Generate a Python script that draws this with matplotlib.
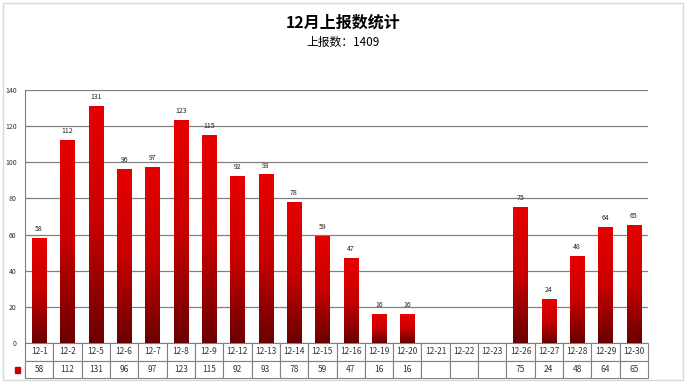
import numpy as np
import matplotlib.pyplot as plt
from matplotlib.patches import Rectangle

plt.rcParams['font.family'] = ['Noto Sans CJK SC', 'DejaVu Sans']

categories = ["12-1", "12-2", "12-5", "12-6", "12-7", "12-8", "12-9", "12-12", "12-13",
              "12-14", "12-15", "12-16", "12-19", "12-20", "12-21", "12-22", "12-23",
              "12-26", "12-27", "12-28", "12-29", "12-30"]
counts = [58, 112, 131, 96, 97, 123, 115, 92, 93, 78, 59, 47, 16, 16,
          None, None, None, 75, 24, 48, 64, 65]
title = "12月上报数统计"
subtitle = "上报数：1409"

fig = plt.figure(figsize=(6.86, 3.83), dpi=100)
# outer frame
fig.patches.append(Rectangle((0.005, 0.008), 0.99, 0.984, transform=fig.transFigure,
                             fill=False, edgecolor='#d8d8d8', lw=1.0))
fig.text(0.5, 0.94, title, ha='center', va='center', fontsize=11.5, fontweight='bold')
fig.text(0.5, 0.888, subtitle, ha='center', va='center', fontsize=8.5)

ax = fig.add_axes([25 / 686, 1 - 343 / 383, 623 / 686, 253 / 383])
ax.set_xlim(0, len(categories))
ax.set_ylim(0, 140)
ax.set_yticks(range(0, 141, 20))
ax.tick_params(axis='y', length=0, labelsize=5, labelcolor='#333333', pad=6)
ax.set_xticks([])
ax.grid(axis='y', color='#808080', lw=0.9)
ax.set_axisbelow(True)
for s in ['top', 'right', 'bottom']:
    ax.spines[s].set_visible(False)
ax.spines['left'].set_color('#808080')

grad = np.linspace(0, 1, 256).reshape(-1, 1)
from matplotlib.colors import LinearSegmentedColormap
cmap = LinearSegmentedColormap.from_list('redgrad', ['#e60000', '#c80000', '#6a0000'])

for i, v in enumerate(counts):
    if v is None:
        continue
    x0 = i + 0.25
    ax.imshow(grad, extent=[x0, x0 + 0.5, 0, v], aspect='auto', cmap=cmap,
              origin='upper', zorder=2)
    ax.text(i + 0.5, v + 3, str(v), ha='center', va='bottom', fontsize=5, color='#222222')
ax.set_xlim(0, len(categories))
ax.set_ylim(0, 140)

cell_text = [["" if v is None else str(v) for v in counts]]
tab = ax.table(cellText=cell_text, colLabels=categories, rowLabels=[""],
               cellLoc='center', rowLoc='center',
               bbox=[0, -35 / 253, 1, 35 / 253])
tab.auto_set_font_size(False)
tab.set_fontsize(6)
for (r, c), cell in tab.get_celld().items():
    cell.set_edgecolor('#808080')
    cell.set_linewidth(0.8)
    cell.get_text().set_color('#333333')
    if c == -1:
        cell.set_width(20 / 623)

fig.patches.append(Rectangle((15 / 686, 1 - 373 / 383), 5 / 686, 6 / 383,
                             transform=fig.transFigure, color='#cc0000'))

fig.savefig("out.png", dpi=100)
